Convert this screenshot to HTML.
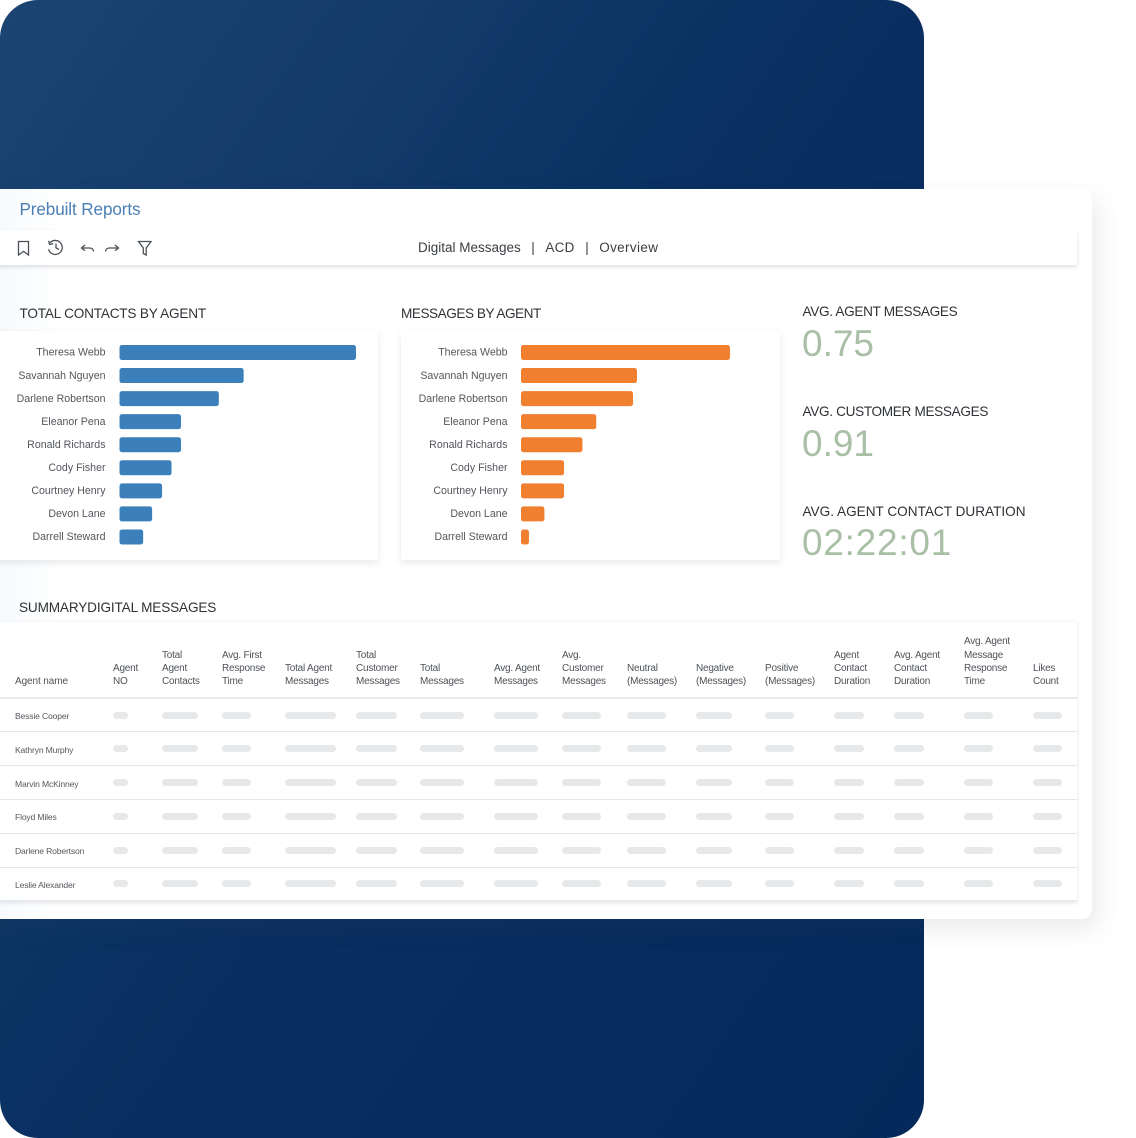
<!DOCTYPE html>
<html lang="en">
<head>
<meta charset="utf-8">
<title>Prebuilt Reports</title>
<style>
html,body{margin:0;padding:0;background:#fff}
body{position:relative;width:1136px;height:1138px;overflow:hidden;font-family:"Liberation Sans",sans-serif;color:#333}
.abs{position:absolute;white-space:nowrap}
#hero-bg{position:absolute;left:0;top:0;width:924px;height:1138px;border-radius:38px;background:linear-gradient(125deg,#1b4472 0%,#133a69 27%,#0a3362 42%,#0a2e60 54%,#04295a 100%)}
#card{position:absolute;left:-20px;top:189px;width:1112px;height:730px;background:linear-gradient(90deg,#f7fafd 20px,#fff 80px);border-radius:10px;box-shadow:6px 10px 24px rgba(60,70,90,.11)}
#toolbar{position:absolute;left:-10px;top:230px;width:1087px;height:35px;background:#fff;box-shadow:0 2px 4px rgba(40,50,70,.15);border-radius:2px}
.panel{position:absolute;top:331px;height:229px;background:#fff;box-shadow:0 3px 7px rgba(40,50,70,.1)}
.sec{font-size:13.6px;color:#2e3236;letter-spacing:-.2px;line-height:16px}
.kpi-l{font-size:13.6px;color:#2e3236;letter-spacing:-.33px;line-height:16px}
.kpi-v{font-size:37px;color:#a9c0a6;line-height:40px;letter-spacing:0}
#tabs{font-size:13.5px;color:#3a3f45}
#tabs .sep{margin:0 10.5px}
svg text{font-family:"Liberation Sans",sans-serif}
#summary-table{position:absolute;left:0;top:622px;width:1077px;height:280px;border-collapse:collapse;table-layout:fixed;background:#fff;box-shadow:0 1px 4px rgba(40,50,70,.12)}
#summary-table th{font-weight:400;font-size:10px;line-height:13.3px;color:#4e5358;text-align:left;vertical-align:bottom;padding:0 0 8.5px 0;height:66.5px;border-bottom:2px solid #e8ebee;letter-spacing:-.22px;white-space:pre-line}
#summary-table td{box-sizing:border-box;padding:0;height:33.8px;border-bottom:1px solid #e4e7ea;vertical-align:middle}
#summary-table tr:last-child td{border-bottom:2px solid #e8ebee}
#summary-table td.name{font-size:8.6px;color:#55595e;letter-spacing:-.17px;padding:2px 0 0 15px;white-space:nowrap}
#summary-table th:first-child{padding-left:15px;letter-spacing:-.1px}
.pill{display:block;height:7px;border-radius:3.5px;background:#e6e8ea}
</style>
</head>
<body>
<div id="hero-bg"></div>
<div id="card"></div>

<div class="abs" style="left:19.5px;top:200px;font-size:17.1px;line-height:20px;color:#4a7fb5;letter-spacing:-.1px">Prebuilt Reports</div>

<div id="toolbar"></div>
<svg class="abs" style="left:0;top:230px" width="170" height="35" fill="none" stroke="#4c5156" stroke-width="1.3">
  <path d="M18.5 11.5h10v13.5l-5-3.6-5 3.6z"/>
  <g><path d="M50 12.8a7 7 0 1 1-1.5 6.5"/><path d="M48.6 10.8l1 3.6 3.6-.7M56 13.5v4.3l3 1.8"/></g>
  <path d="M93.5 21.5q0 -3 -3.5 -3.5h-8.500M85 15l-3.500 3 3.500 2.800"/>
  <path d="M105.500 21.500q0 -3 3.500 -3.500h9.500M115 15l3.500 3 -3.500 2.800"/>
  <path d="M138.500 11.500h12.500l-4.800 6.500v7l-2.900-1.500v-5.500z"/>
</svg>
<div id="tabs" class="abs" style="left:418px;top:240px;line-height:16px"><span>Digital Messages</span><span class="sep">|</span><span style="letter-spacing:.3px">ACD</span><span class="sep">|</span><span style="letter-spacing:.35px">Overview</span></div>

<div class="abs sec" style="left:19.5px;top:306px">TOTAL CONTACTS BY AGENT</div>
<div class="abs sec" style="left:401px;top:306px;letter-spacing:-.47px">MESSAGES BY AGENT</div>

<div class="panel" style="left:-10px;width:388px"></div>
<div class="panel" style="left:401px;width:379px"></div>
<svg id="contacts-chart" class="abs" style="left:0;top:331px" width="378" height="229"></svg>
<svg id="messages-chart" class="abs" style="left:401px;top:331px" width="379" height="229"></svg>

<div class="abs kpi-l" style="left:802.5px;top:304px">AVG. AGENT MESSAGES</div>
<div class="abs kpi-v" style="left:802px;top:324px">0.75</div>
<div class="abs kpi-l" style="left:802.5px;top:404px">AVG. CUSTOMER MESSAGES</div>
<div class="abs kpi-v" style="left:802px;top:424px">0.91</div>
<div class="abs kpi-l" style="left:802.5px;top:504px;letter-spacing:0">AVG. AGENT CONTACT DURATION</div>
<div class="abs kpi-v" style="left:802px;top:523px;letter-spacing:.75px">02:22:01</div>

<div class="abs sec" style="left:19px;top:600px;letter-spacing:-.15px">SUMMARYDIGITAL MESSAGES</div>

<table id="summary-table">
<colgroup>
<col style="width:113px"><col style="width:49px"><col style="width:60px"><col style="width:63px"><col style="width:71px"><col style="width:64px"><col style="width:74px"><col style="width:68px"><col style="width:65px"><col style="width:69px"><col style="width:69px"><col style="width:69px"><col style="width:60px"><col style="width:70px"><col style="width:69px"><col style="width:44px">
</colgroup>
<thead id="table-head"></thead>
<tbody id="table-body"></tbody>
</table>
<style>
td:nth-child(2) .pill{width:15px}td:nth-child(3) .pill{width:36px}td:nth-child(4) .pill{width:29px}
td:nth-child(5) .pill{width:51px}td:nth-child(6) .pill{width:41px}td:nth-child(7) .pill{width:44px}
td:nth-child(8) .pill{width:44px}td:nth-child(9) .pill{width:39px}td:nth-child(10) .pill{width:39px}
td:nth-child(11) .pill{width:36px}td:nth-child(12) .pill{width:29px}td:nth-child(13) .pill{width:30px}
td:nth-child(14) .pill{width:30px}td:nth-child(15) .pill{width:29px}td:nth-child(16) .pill{width:29px}
</style>

<script>
var agents = ["Theresa Webb","Savannah Nguyen","Darlene Robertson","Eleanor Pena","Ronald Richards","Cody Fisher","Courtney Henry","Devon Lane","Darrell Steward"];
var contactValues = [100,52.5,42,26,26,22,18,13.8,10];
var messageValues = [100,55.5,53.6,36,29.4,20.6,20.6,11.2,3.8];
var tableHeaders = ["Agent name","Agent\nNO","Total\nAgent\nContacts","Avg. First\nResponse\nTime","Total Agent\nMessages","Total\nCustomer\nMessages","Total\nMessages","Avg. Agent\nMessages","Avg.\nCustomer\nMessages","Neutral\n(Messages)","Negative\n(Messages)","Positive\n(Messages)","Agent\nContact\nDuration","Avg. Agent\nContact\nDuration","Avg. Agent\nMessage\nResponse\nTime","Likes\nCount"];
var tableAgents = ["Bessie Cooper","Kathryn Murphy","Marvin McKinney","Floyd Miles","Darlene Robertson","Leslie Alexander"];

var SVGNS = "http://www.w3.org/2000/svg";
function drawBars(svgId, values, color, labelRight, x0, maxW) {
  var svg = document.getElementById(svgId);
  var maxV = Math.max.apply(null, values);
  function xScale(v) { return v / maxV * maxW; }
  function yScale(i) { return 14 + i * 23.06; }
  agents.forEach(function (name, i) {
    var t = document.createElementNS(SVGNS, "text");
    t.setAttribute("x", labelRight);
    t.setAttribute("y", yScale(i) + 10.7);
    t.setAttribute("text-anchor", "end");
    t.setAttribute("font-size", "10.6");
    t.setAttribute("fill", "#53575c");
    t.textContent = name;
    
    
    svg.appendChild(t);
    var r = document.createElementNS(SVGNS, "rect");
    r.setAttribute("x", x0);
    r.setAttribute("y", yScale(i));
    r.setAttribute("width", xScale(values[i]));
    r.setAttribute("height", 15);
    r.setAttribute("rx", 2.5);
    r.setAttribute("fill", color);
    
    
    svg.appendChild(r);
  });
}
drawBars("contacts-chart", contactValues, "#3b80ba", 105.5, 119.5, 236.5);
drawBars("messages-chart", messageValues, "#f07f30", 106.5, 120, 209);

var headRow = document.createElement("tr");
tableHeaders.forEach(function (h) {
  var th = document.createElement("th");
  th.textContent = h;
  
  
  headRow.appendChild(th);
});
document.getElementById("table-head").appendChild(headRow);

var body = document.getElementById("table-body");
tableAgents.forEach(function (name) {
  var tr = document.createElement("tr");
  
  
  var nameCell = document.createElement("td");
  nameCell.className = "name";
  nameCell.textContent = name;
  
  
  tr.appendChild(nameCell);
  for (var c = 1; c < tableHeaders.length; c++) {
    var td = document.createElement("td");
    var pill = document.createElement("span");
    pill.className = "pill";
    
    
    td.appendChild(pill);
    tr.appendChild(td);
  }
  body.appendChild(tr);
});
</script>
</body>
</html>
